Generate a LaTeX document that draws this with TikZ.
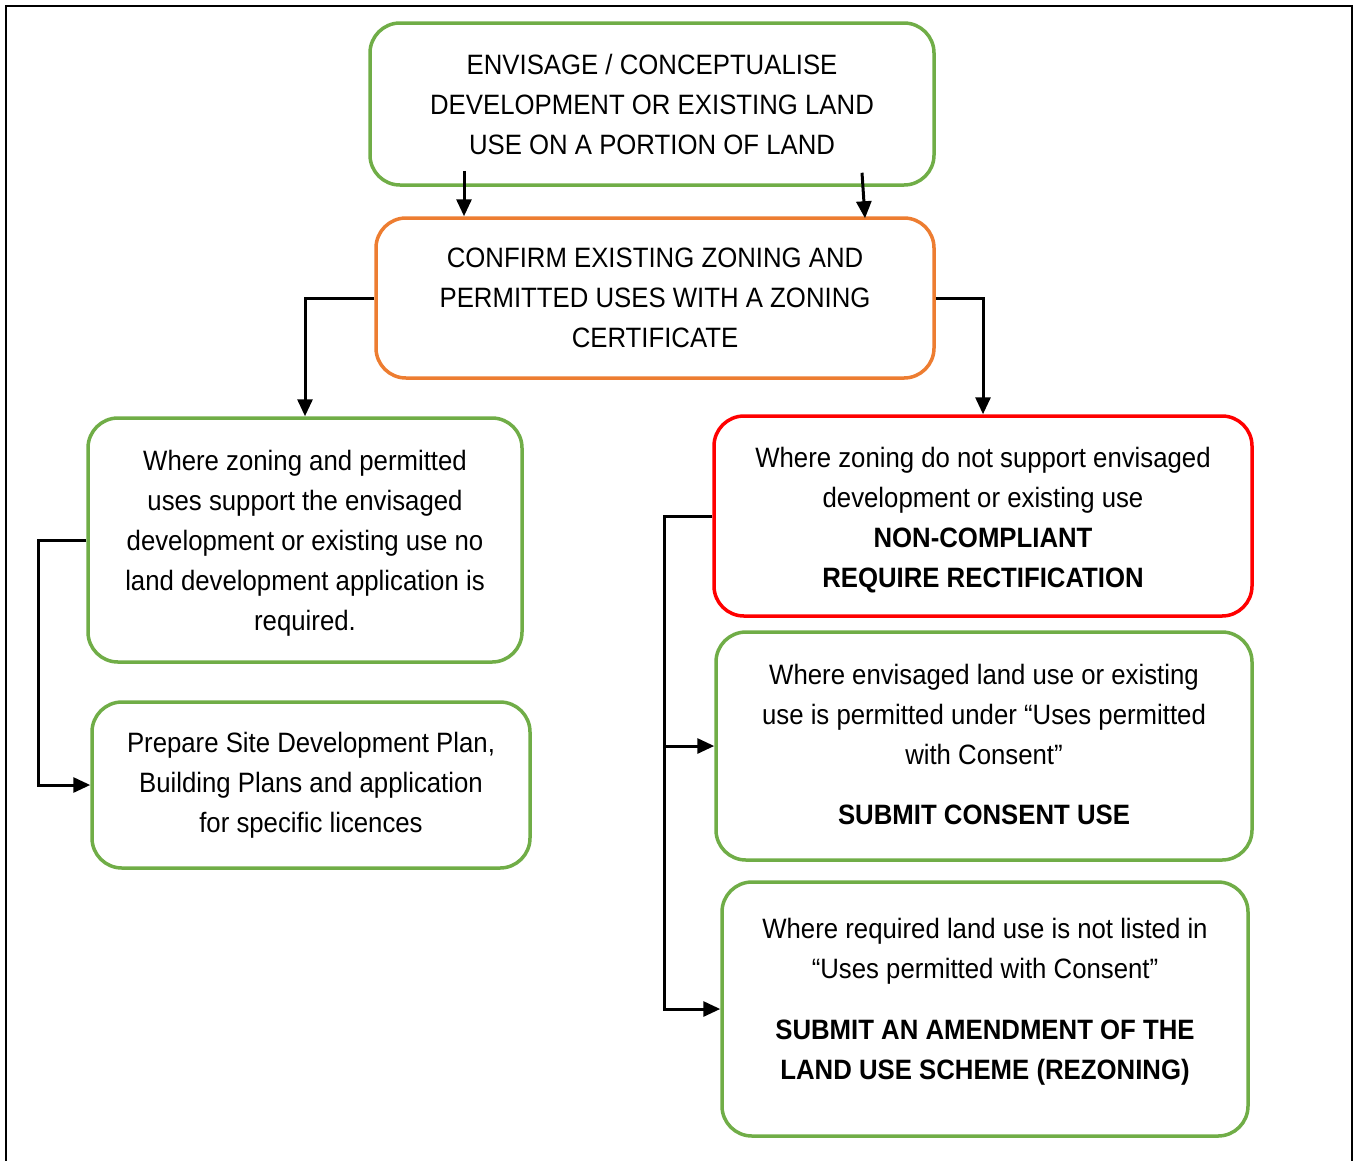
\documentclass[tikz,border=0pt]{standalone}
\usepackage{fontspec}
\setmainfont{Liberation Sans}[FakeStretch=0.92]
\usetikzlibrary{arrows.meta}
\definecolor{grn}{HTML}{70AD47}
\definecolor{org}{HTML}{ED7D31}
\definecolor{rd}{HTML}{FF0000}
\begin{document}
\begin{tikzpicture}[x=1pt,y=-1pt,
  box/.style={draw, line width=3.5pt, rounded corners=30pt, align=center, inner sep=0pt,
              font=\fontsize{28}{40}\selectfont},
  txt/.style={align=center, inner sep=0pt, font=\fontsize{28}{40}\selectfont},
  arr/.style={line width=3pt, -{Triangle[length=17pt,width=15pt]}},
  frame/.style={line width=2pt}]
\useasboundingbox (0,0) rectangle (1356,1160);
\draw[frame] (6,1162) -- (6,6) -- (1352,6) -- (1352,1162);

\node[box, draw=grn, minimum width=564pt, minimum height=162pt] (n1) at (652,104)
  {ENVISAGE / CONCEPTUALISE\\DEVELOPMENT OR EXISTING LAND\\USE ON A PORTION OF LAND};
\node[box, draw=org, minimum width=558pt, minimum height=160pt] (n2) at (655,298)
  {CONFIRM EXISTING ZONING AND\\PERMITTED USES WITH A ZONING\\CERTIFICATE};
\node[box, draw=grn, minimum width=434pt, minimum height=244pt] (n3) at (305,540) {};
\node[txt] (n3t) at (305,543)
  {Where zoning and permitted\\uses support the envisaged\\development or existing use no\\land development application is\\required.};
\node[box, draw=grn, minimum width=438pt, minimum height=166pt] (n4) at (311,785)
  {Prepare Site Development Plan,\\Building Plans and application\\for specific licences};
\node[box, draw=rd, minimum width=538pt, minimum height=200pt] (n5) at (983,516) {};
\node[txt] (n5t) at (983,520)
  {Where zoning do not support envisaged\\development or existing use\\\textbf{NON-COMPLIANT}\\\textbf{REQUIRE RECTIFICATION}};
\node[box, draw=grn, minimum width=536pt, minimum height=228pt] (n6) at (984,746) {};
\node[txt] (n6t) at (984,744)
  {Where envisaged land use or existing\\use is permitted under “Uses permitted\\with Consent”\\[20pt]\textbf{SUBMIT CONSENT USE}};
\node[box, draw=grn, minimum width=526pt, minimum height=254pt] (n7) at (985,1009) {};
\node[txt] (n7t) at (985,1002)
  {Where required land use is not listed in\\“Uses permitted with Consent”\\[21pt]\textbf{SUBMIT AN AMENDMENT OF THE}\\\textbf{LAND USE SCHEME (REZONING)}};

\draw[arr] ([xshift=-188pt,yshift=16pt]n1.south) -- ([xshift=-191pt]n2.north);
\draw[arr] ([xshift=210pt,yshift=14pt]n1.south) -- ([xshift=210pt,yshift=-2pt]n2.north);
\draw[arr] (n2.west) -| (n3.north);
\draw[arr] (n2.east) -| (n5.north);
\draw[arr] (n3.west) -- ++(-48,0) |- (n4.west);
\draw[arr] (n5.west) -- ++(-48,0) coordinate (trunk) |- (n7.west);
\draw[arr] (trunk |- n6.west) -- (n6.west);
\end{tikzpicture}
\end{document}
